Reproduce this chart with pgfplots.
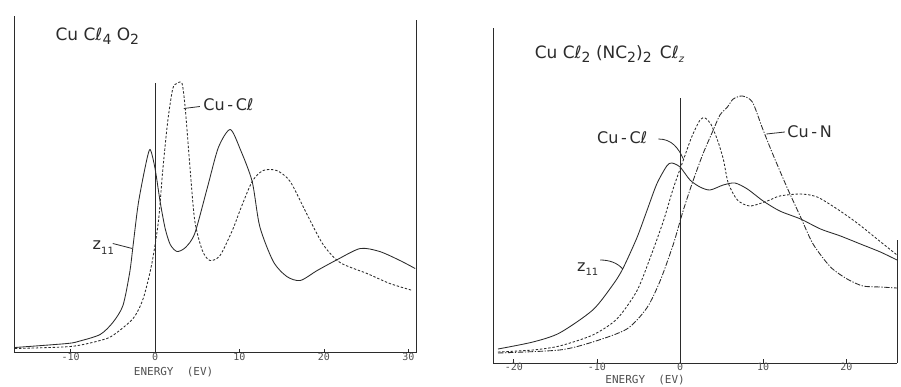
\documentclass[border=0pt]{standalone}
\usepackage{fontspec}
\setmainfont{DejaVu Sans}
\setmonofont{DejaVu Sans Mono}
\usepackage{pgfplots}
\pgfplotsset{compat=1.18}
\definecolor{ink}{HTML}{2B2B2B}
\definecolor{tk}{HTML}{505050}
\newcommand\sub[1]{\raisebox{-0.45ex}{\fontsize{14}{14}\selectfont #1}}
\newcommand\ssub[1]{\raisebox{-0.5ex}{\fontsize{10}{10}\selectfont #1}}
\pgfplotsset{
  panel/.style={
    scale only axis,
    axis x line*=bottom, axis y line*=left,
    axis line style={-, ink, line width=0.8pt},
    ymin=0, ytick=\empty,
    tick align=inside, major tick length=4pt,
    tick style={ink, line width=0.7pt},
    xticklabel style={font=\ttfamily\fontsize{10}{10}\selectfont, text=tk, inner sep=1pt, yshift=1pt},
    clip=false,
  },
  crv/.style={ink, line width=0.85pt, smooth, tension=0.45, no marks},
  dsh/.style={crv, dash pattern=on 2.4pt off 1.8pt},
  dsd/.style={crv, dash pattern=on 5.5pt off 1.6pt on 1.2pt off 1.6pt},
}
\tikzset{
  lbl/.style={anchor=west, inner sep=0pt, text=ink, font=\fontsize{16}{16}\selectfont},
  ttl/.style={lbl, font=\fontsize{17}{17}\selectfont},
  xl/.style={inner sep=0pt, text=tk, font=\ttfamily\fontsize{11}{11}\selectfont},
}
\begin{document}
\begin{tikzpicture}[x=1pt,y=1pt]
\useasboundingbox[fill=white] (0,0) rectangle (901,386);
% ---------------- left panel ----------------
\begin{axis}[panel, at={(14pt,33.5pt)}, anchor=south west,
  width=402pt, height=336pt, xmin=-16.7, xmax=30.9, ymax=336,
  xtick={-10,0,10,20,30}, xticklabels={-10,0,10,20,30}]
\draw[ink, line width=0.8pt] (rel axis cs:1,0) -- (rel axis cs:1,0.99);
\addplot[ink, line width=0.8pt, sharp plot, no marks] coordinates {(0,0) (0,269)};
% z11 (solid)
\addplot[crv] coordinates {
(-16.6,5) (-10.4,9) (-8.9,11.5) (-6.5,18) (-5.0,30) (-3.8,47) (-3.0,80)
(-2.6,107) (-2.0,148) (-1.2,184) (-0.6,203) (0,184) (0.6,151) (1.2,124)
(1.8,108) (2.6,101) (3.6,105) (4.7,119) (6.2,165) (7.5,205) (8.9,223)
(10.1,203) (11.5,171) (12.4,126) (14.0,91) (15.6,76) (17.2,72) (19.2,82)
(21.6,93) (24.3,104) (26.6,101) (29.0,92) (30.8,84)};
% Cu-Cl (dashed)
\addplot[dsh] coordinates {
(-16.6,4) (-10,6) (-6.5,12) (-5.0,17) (-2.6,34) (-1.4,54) (-0.4,88)
(0.4,131) (0.9,181) (1.5,231) (2.1,264) (2.6,269) (3.2,269) (3.6,242)
(4.1,189) (4.7,132) (5.6,102) (6.5,92) (7.7,97) (9.2,123) (10.1,143)
(11.5,171) (12.8,182) (14.4,182) (16.0,171) (18.0,138) (19.9,108)
(21.9,90) (25.1,79) (27.8,69) (30.5,62)};
\node[ttl] at (axis cs:-11.8,316) {Cu Cℓ\sub{4} O\sub{2}};
\node[lbl] at (axis cs:5.7,248) {Cu\,-\,Cℓ};
\draw[ink, line width=0.8pt] (axis cs:3.4,244) -- (axis cs:5.3,246);
\node[lbl] at (axis cs:-7.4,105) {z\ssub{11}};
\draw[ink, line width=0.8pt] (axis cs:-5.0,109) -- (axis cs:-2.7,104);
\node[xl] at (axis cs:2.2,-20) {ENERGY\ \ (EV)};
\end{axis}
% ---------------- right panel ----------------
\begin{axis}[panel, at={(493pt,23pt)}, anchor=south west,
  width=404pt, height=335pt, xmin=-22.5, xmax=26.1, ymax=335,
  xtick={-20,-10,0,10,20}, xticklabels={-20,-10,0,10,20}]
\draw[ink, line width=0.8pt] (rel axis cs:1,0) -- (rel axis cs:1,0.367);
\addplot[ink, line width=0.8pt, sharp plot, no marks] coordinates {(0,0) (0,265)};
% z11 (solid)
\addplot[crv] coordinates {
(-21.9,14) (-17.7,21) (-14.5,30) (-10.5,53) (-8.1,78) (-6.9,94) (-5.2,125)
(-4.0,152) (-2.8,179) (-1.6,197) (-1.0,200) (0,196) (1.2,183) (2.4,176)
(3.6,173) (5.2,178) (6.6,180) (8.1,174) (10.0,162) (12.0,152) (14.5,144)
(16.9,134) (19.3,127) (21.7,119) (24.1,111) (26.1,103)};
% Cu-Cl (dashed)
\addplot[dsh] coordinates {
(-21.9,11) (-17.7,13) (-14.5,17) (-10.5,28) (-7.6,44) (-5.2,72) (-3.6,105)
(-2.0,142) (-0.8,175) (0.4,203) (1.4,226) (2.4,243) (3.0,245) (3.7,239)
(4.5,223) (5.2,204) (5.8,180) (6.9,163) (8.4,157) (10.5,162) (12.0,167)
(14.5,169) (16.5,166) (18.9,154) (21.3,140) (23.7,124) (26.1,108)};
% Cu-N (dash-dot)
\addplot[dsd] coordinates {
(-21.9,10) (-14.5,13) (-10.5,21) (-6.4,34) (-4.0,55) (-2.4,82) (-0.8,119)
(0.4,153) (1.6,183) (2.8,210) (4.0,233) (4.8,248) (5.7,256) (6.4,264)
(7.5,267) (8.7,261) (9.9,235) (11.2,208) (12.9,175) (14.5,146) (16.0,119)
(18.1,96) (20.1,84) (22.0,77) (24.1,76) (26.1,75)};
\node[ttl] at (axis cs:-17.5,309) {Cu Cℓ\sub{2} (NC\sub{2})\sub{2} \,Cℓ\ssub{\textit{z}}};
\node[lbl] at (axis cs:-10.0,225) {Cu\,-\,Cℓ};
\draw[ink, line width=0.8pt] (axis cs:-2.6,224) .. controls (axis cs:-1.0,224) and (axis cs:-0.2,215) .. (axis cs:0.4,204);
\node[lbl] at (axis cs:12.9,231) {Cu\,-\,N};
\draw[ink, line width=0.8pt] (axis cs:10.4,229) -- (axis cs:12.6,231);
\node[lbl] at (axis cs:-12.4,94) {z\ssub{11}};
\draw[ink, line width=0.8pt] (axis cs:-9.6,103) .. controls (axis cs:-8.5,103) and (axis cs:-7.5,100) .. (axis cs:-6.9,94);
\node[xl] at (axis cs:-4.2,-17.5) {ENERGY\ \ (EV)};
\end{axis}
\end{tikzpicture}
\end{document}
